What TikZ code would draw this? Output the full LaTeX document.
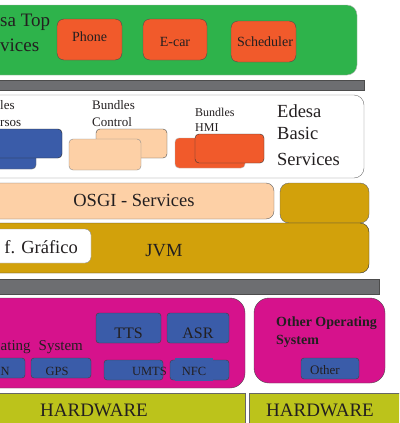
\documentclass[tikz,border=0pt]{standalone}
\usepackage{fontspec}
\setmainfont{Liberation Serif}
\usetikzlibrary{positioning}

\definecolor{topgreen}{HTML}{2EB34B}
\definecolor{compred}{HTML}{F15A2B}
\definecolor{bargray}{HTML}{6D6E71}
\definecolor{peach}{HTML}{FDD0A6}
\definecolor{jvmgold}{HTML}{D2A10B}
\definecolor{osmagenta}{HTML}{D6128C}
\definecolor{devblue}{HTML}{3A5CA9}
\definecolor{hwolive}{HTML}{BCC31B}
\definecolor{ink}{HTML}{231F20}

\newcommand{\fsz}[2]{\fontsize{#1}{#2}\selectfont}

\begin{document}
\begin{tikzpicture}[x=1pt, y=-1pt,
    sz/.style 2 args={minimum width=#1pt, minimum height=#2pt},
    layer/.style={draw=black!55, rounded corners=10pt, inner sep=0pt},
    comp/.style={draw=black!70, rounded corners=7pt, fill=compred, inner sep=0pt},
    bundle/.style={draw=black!60, rounded corners=4pt, inner sep=0pt},
    unit/.style={draw=black!75, rounded corners=3pt, fill=devblue, inner sep=0pt},
    bar/.style={draw=black!70, fill=bargray, inner sep=0pt},
    hw/.style={draw=black!60, fill=hwolive, inner sep=0pt},
    txt/.style={inner sep=0pt, text=ink}
]
\useasboundingbox (0,0) rectangle (399,423);
\clip (0,0) rectangle (399,423);

% top services
\node[layer, fill=topgreen, draw=black!30, sz={417}{70}] (top) at (148.5,40) {};
\node[comp, sz={65}{41}] (phone) at (89.5,39.5) {};
\node[comp, sz={64}{41}] (ecar) at (175,39.5) {};
\node[comp, sz={65}{41}] (sched) at (263.5,41.5) {};
\node[bar, sz={424}{10}] (bara) at (152,85) {};

% basic services
\node[layer, fill=white, sz={424}{83}] (basic) at (152,136.5) {};
\node[bundle, fill=devblue, sz={96}{29}] (recback) at (-12,154.5) {};
\node[bundle, fill=devblue, draw=black!85, sz={122}{29}] (recfront) at (1,143.5) {};
\node[bundle, fill=peach, draw=black!70, sz={71}{29}] (ctlback) at (131.5,143.5) {};
\node[bundle, fill=peach, draw=black!45, sz={72}{31}] (ctlfront) at (105,154.5) {};
\node[bundle, fill=compred, draw=black!30, sz={70}{30}] (hmiback) at (210,153) {};
\node[bundle, fill=compred, draw=black!80, sz={69}{29}] (hmifront) at (229.5,148.5) {};

% osgi and jvm
\node[layer, rounded corners=8pt, fill=peach, draw=black!60, sz={334}{36}] (osgi) at (107,201) {};
\node[layer, rounded corners=9pt, fill=jvmgold, draw=black!60, sz={89}{40}] (goldbox) at (324.5,203) {};
\node[layer, rounded corners=9pt, fill=jvmgold, draw=black!80, sz={429}{50}] (jvm) at (154.5,248) {};
\node[layer, rounded corners=6pt, fill=white, draw=black!45, sz={151}{34}] (grafico) at (15.5,246) {};
\node[bar, sz={439}{15}] (barb) at (159.5,286.5) {};

% operating systems
\node[layer, rounded corners=15pt, fill=osmagenta, draw=black!70, sz={305}{90}] (os) at (92.5,343) {};
\node[unit, sz={65}{30}] (tts) at (128.5,328) {};
\node[unit, sz={62}{30}] (asr) at (198,328) {};
\node[unit, sz={85}{20}] (nbox) at (-17.5,368) {};
\node[unit, sz={60}{20}] (gps) at (61,368) {};
\node[unit, sz={59}{20}] (umts) at (133.5,370) {};
\node[unit, sz={59}{20}] (nfc) at (199.5,370) {};
\node[fill=devblue, inner sep=0pt, sz={38}{23}] (nfcpatch) at (194,369.5) {};
\node[layer, rounded corners=15pt, fill=osmagenta, draw=black!70, sz={131}{85}] (otheros) at (319.5,340.5) {};
\node[unit, sz={58}{21}] (other) at (330,368.5) {};

% hardware
\node[hw, sz={305}{37}] (hwa) at (92.5,411.5) {};
\node[hw, sz={161}{37}] (hwb) at (329.5,411.5) {};

% texts
\node[txt, anchor=base west, font=\fsz{19}{23}] (topa) at (0,27) {sa Top};
\node[txt, anchor=base west, font=\fsz{19}{23}] (topb) at (0,51) {vices};
\node[txt, anchor=base, font=\fsz{14}{17}] (phonet) at (89.5,41) {Phone};
\node[txt, anchor=base, font=\fsz{14}{17}] (ecart) at (175,46) {E-car};
\node[txt, anchor=base, font=\fsz{14}{17}] (schedt) at (265,46) {Scheduler};

\node[txt, anchor=base west, font=\fsz{13}{16}] (reca) at (0,109) {les};
\node[txt, anchor=base west, font=\fsz{13}{16}] (recb) at (0,126) {rsos};
\node[txt, anchor=base west, font=\fsz{13}{16}] (ctla) at (92,109) {Bundles};
\node[txt, anchor=base west, font=\fsz{13}{16}] (ctlb) at (92,126) {Control};
\node[txt, anchor=base west, font=\fsz{12}{15}] (hmia) at (195,116) {Bundles};
\node[txt, anchor=base west, font=\fsz{12}{15}] (hmib) at (195,131) {HMI};
\node[txt, anchor=base west, font=\fsz{18.5}{22}] (basica) at (277,117) {Edesa};
\node[txt, anchor=base west, font=\fsz{18.5}{22}] (basicb) at (277,139) {Basic};
\node[txt, anchor=base west, font=\fsz{18.5}{22}] (basicc) at (277,165) {Services};

\node[txt, anchor=base, font=\fsz{18.5}{22}] (osgit) at (134,206) {OSGI - Services};
\node[txt, anchor=base, font=\fsz{18.5}{22}] (jvmt) at (164,256) {JVM};
\node[txt, anchor=base east, font=\fsz{18.5}{22}] (graficot) at (78,253) {f. Gráfico};

\node[txt, anchor=base west, font=\fsz{15}{18}] (ost) at (0.5,350) {ating\hspace{8pt}System};
\node[txt, anchor=base, font=\fsz{16}{19}] (ttst) at (128.5,338) {TTS};
\node[txt, anchor=base, font=\fsz{16}{19}] (asrt) at (198,338) {ASR};
\node[txt, anchor=base west, font=\fsz{12.5}{15}] (nt) at (0.5,375) {N};
\node[txt, anchor=base, font=\fsz{12.5}{15}] (gpst) at (57,375) {GPS};
\node[txt, anchor=base east, font=\fsz{12.5}{15}] (umtst) at (167,375) {UMTS};
\node[txt, anchor=base, font=\fsz{12.5}{15}] (nfct) at (194,375) {NFC};
\node[txt, anchor=base west, font=\fsz{14}{17}\bfseries] (otherosa) at (276,326) {Other Operating};
\node[txt, anchor=base west, font=\fsz{14}{17}\bfseries] (otherosb) at (276,344) {System};
\node[txt, anchor=base, font=\fsz{13}{16}] (othert) at (325,374) {Other};

\node[txt, anchor=base, font=\fsz{19}{23}] (hwat) at (94,416) {HARDWARE};
\node[txt, anchor=base, font=\fsz{19}{23}] (hwbt) at (320,416) {HARDWARE};
\end{tikzpicture}
\end{document}
